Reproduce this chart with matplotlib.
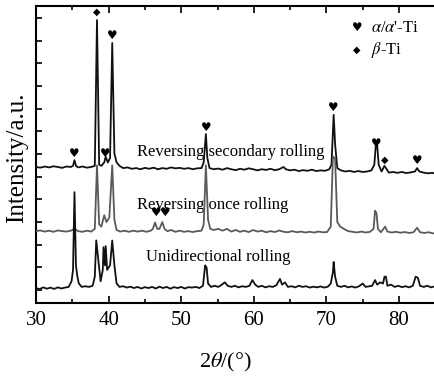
import numpy as np
import matplotlib.pyplot as plt
from matplotlib.ticker import MultipleLocator

plt.rcParams['font.family'] = ['Liberation Serif', 'DejaVu Sans']
plt.rcParams['mathtext.fontset'] = 'stix'

# Reversing secondary rolling (intensity relative to its own baseline)
sec_x = [30.0, 30.6, 31.2, 31.8, 32.4, 33.0, 33.6, 34.2, 34.8, 35.1, 35.3, 35.5, 35.8, 36.4,
         37.0, 37.6, 38.1, 38.4, 38.7, 39.0, 39.4, 39.6, 39.9, 40.2, 40.5, 40.8, 41.1, 41.5,
         42.0, 42.6, 43.2, 43.8, 44.4, 45.0, 45.6, 46.2, 46.8, 47.4, 48.0, 48.6, 49.2, 49.8,
         50.4, 51.0, 51.6, 52.2, 52.8, 53.1, 53.4, 53.6, 53.9, 54.5, 55.1, 55.7, 56.3, 56.9,
         57.5, 58.1, 58.7, 59.3, 59.9, 60.5, 61.1, 61.7, 62.3, 62.9, 63.5, 64.1, 64.4, 65.0,
         65.6, 66.2, 66.8, 67.4, 68.0, 68.6, 69.2, 69.8, 70.4, 70.7, 71.0, 71.2, 71.5, 72.0,
         72.6, 73.2, 73.8, 74.4, 75.0, 75.6, 76.2, 76.6, 76.8, 77.0, 77.2, 77.6, 78.0, 78.2,
         78.6, 79.2, 79.8, 80.4, 81.0, 81.6, 82.2, 82.5, 82.8, 83.4, 84.0, 84.6, 85.0]
sec_y = [0.00, -0.03, 0.02, -0.02, 0.03, 0.00, -0.04, 0.02, 0.00, 0.05, 0.30, 0.05, -0.02, 0.02,
         -0.03, 0.00, 0.05, 6.48, 0.10, 0.05, 0.20, 0.45, 0.20, 0.40, 5.47, 0.60, 0.20, 0.05,
         -0.05, -0.02, -0.08, -0.05, -0.10, -0.04, -0.08, -0.03, -0.10, -0.05, -0.08, -0.02, -0.06, -0.04,
         -0.08, -0.05, -0.10, -0.06, -0.05, 0.20, 1.45, 0.40, -0.05, -0.10, -0.07, -0.12, -0.05, -0.10,
         -0.14, -0.08, -0.12, -0.06, -0.10, -0.15, -0.10, -0.13, -0.08, -0.14, -0.10, 0.00, -0.10, -0.15,
         -0.12, -0.18, -0.14, -0.17, -0.12, -0.18, -0.15, -0.17, -0.10, 0.10, 2.30, 1.00, -0.05, -0.15,
         -0.20, -0.17, -0.22, -0.18, -0.22, -0.20, -0.15, 0.10, 0.95, 0.95, 0.10, -0.20, 0.05, -0.05,
         -0.25, -0.22, -0.26, -0.22, -0.27, -0.24, -0.20, -0.05, -0.20, -0.25, -0.28, -0.26, -0.30]

# Reversing once rolling
once_x = [30.0, 30.6, 31.2, 31.8, 32.4, 33.0, 33.6, 34.2, 34.8, 35.3, 35.8, 36.4, 37.0, 37.6,
          38.1, 38.4, 38.7, 39.0, 39.4, 39.7, 40.1, 40.5, 40.8, 41.1, 41.6, 42.2, 42.8, 43.4,
          44.0, 44.6, 45.2, 45.8, 46.1, 46.4, 46.7, 47.0, 47.4, 47.7, 48.1, 48.6, 49.2, 49.8,
          50.4, 51.0, 51.6, 52.2, 52.8, 53.1, 53.4, 53.7, 54.0, 54.5, 55.1, 55.7, 56.3, 56.9,
          57.5, 58.1, 58.7, 59.3, 59.9, 60.5, 61.1, 61.7, 62.3, 62.9, 63.5, 64.1, 64.7, 65.3,
          65.9, 66.5, 67.1, 67.7, 68.3, 68.9, 69.5, 70.1, 70.6, 70.9, 71.2, 71.5, 71.9, 72.4,
          73.0, 73.6, 74.2, 74.8, 75.4, 76.0, 76.5, 76.7, 76.9, 77.1, 77.5, 78.1, 78.4, 79.0,
          79.6, 80.2, 80.8, 81.4, 82.0, 82.5, 82.9, 83.5, 84.1, 84.7, 85.0]
once_y = [0.00, 0.03, -0.02, 0.02, -0.03, 0.03, 0.00, -0.02, 0.02, 0.10, 0.00, -0.03, 0.02, -0.02,
          0.10, 2.90, 0.30, 0.20, 0.70, 0.40, 0.60, 2.90, 0.50, 0.05, -0.02, 0.02, -0.03, 0.02,
          -0.02, 0.02, -0.03, 0.02, 0.10, 0.38, 0.10, 0.10, 0.40, 0.10, 0.00, 0.05, -0.03, 0.02,
          -0.03, 0.00, -0.04, 0.00, 0.02, 0.30, 2.90, 0.50, 0.10, 0.05, 0.10, 0.02, 0.10, -0.02,
          0.05, -0.03, 0.02, -0.04, 0.05, -0.02, 0.02, -0.05, 0.00, -0.04, 0.03, -0.03, -0.05, 0.00,
          -0.05, -0.02, -0.06, -0.03, -0.06, -0.02, -0.05, -0.04, 0.20, 3.30, 3.20, 0.40, 0.20, 0.10,
          0.00, -0.03, -0.06, -0.02, -0.06, -0.03, 0.10, 0.90, 0.80, 0.10, -0.05, 0.20, -0.02, -0.06,
          -0.03, -0.07, -0.04, -0.08, -0.05, 0.15, -0.05, -0.08, -0.05, -0.10, -0.08]

# Unidirectional rolling
uni_x = [30.0, 30.5, 31.0, 31.5, 32.0, 32.5, 33.0, 33.5, 34.0, 34.5, 34.9, 35.1, 35.3, 35.5,
         35.7, 35.9, 36.3, 36.8, 37.3, 37.8, 38.1, 38.3, 38.6, 38.9, 39.2, 39.3, 39.5, 39.6,
         39.8, 40.2, 40.5, 40.8, 41.1, 41.5, 42.0, 42.5, 43.0, 43.5, 44.0, 44.5, 45.0, 45.5,
         46.0, 46.5, 47.0, 47.5, 48.0, 48.5, 49.0, 49.5, 50.0, 50.5, 51.0, 51.5, 52.0, 52.5,
         53.0, 53.3, 53.5, 53.7, 54.1, 54.6, 55.1, 55.6, 56.0, 56.4, 56.9, 57.4, 57.9, 58.4,
         58.9, 59.4, 59.8, 60.2, 60.6, 61.1, 61.6, 62.1, 62.6, 63.1, 63.6, 63.9, 64.3, 64.7,
         65.2, 65.7, 66.2, 66.7, 67.2, 67.7, 68.2, 68.7, 69.2, 69.7, 70.2, 70.6, 70.9, 71.0,
         71.2, 71.5, 72.0, 72.5, 73.0, 73.5, 74.0, 74.5, 75.0, 75.4, 75.9, 76.3, 76.7, 77.0,
         77.4, 77.8, 78.0, 78.2, 78.4, 78.9, 79.4, 79.9, 80.4, 80.9, 81.4, 81.9, 82.3, 82.6,
         82.9, 83.4, 83.9, 84.4, 85.0]
uni_y = [0.00, -0.05, 0.03, -0.03, 0.02, -0.04, 0.03, -0.02, 0.02, 0.05, 0.30, 0.80, 4.23, 1.00,
         0.50, 0.20, 0.05, 0.08, 0.05, 0.10, 0.50, 2.10, 1.20, 0.30, 0.80, 1.80, 1.00, 1.85,
         0.80, 1.00, 2.10, 1.00, 0.20, 0.05, 0.08, 0.02, 0.06, 0.00, 0.05, -0.02, 0.04, 0.00,
         0.05, -0.02, 0.06, 0.00, 0.05, -0.03, 0.04, 0.00, 0.05, -0.02, 0.04, 0.02, 0.05, 0.00,
         0.10, 1.00, 0.90, 0.20, 0.05, 0.10, 0.05, 0.15, 0.25, 0.10, 0.05, 0.10, 0.03, 0.08,
         0.05, 0.10, 0.35, 0.15, 0.05, 0.10, 0.03, 0.08, 0.05, 0.12, 0.40, 0.15, 0.25, 0.05,
         0.08, 0.03, 0.10, 0.05, 0.08, 0.02, 0.06, 0.03, 0.07, 0.02, 0.06, 0.20, 0.70, 1.15,
         0.50, 0.10, 0.05, 0.10, 0.03, 0.07, 0.02, 0.08, 0.20, 0.05, 0.08, 0.10, 0.35, 0.15,
         0.25, 0.20, 0.50, 0.50, 0.10, 0.15, 0.05, 0.10, 0.04, 0.08, 0.03, 0.10, 0.50, 0.45,
         0.10, 0.05, 0.10, 0.03, 0.08]

labels = ["Reversing secondary rolling", "Reversing once rolling", "Unidirectional rolling"]

# phase markers: position (2theta, height) and phase
mark_x = [38.4, 40.5, 35.3, 39.6, 53.4, 71.0, 76.8, 78.1, 82.5, 46.5, 47.8]
mark_y = [13.26, 12.25, 7.04, 7.04, 8.19, 9.07, 7.48, 6.73, 6.73, 4.40, 4.40]
mark_k = ["b", "a", "a", "a", "a", "a", "a", "b", "a", "a", "a"]

fig = plt.figure(figsize=(4.34, 3.78), dpi=100)
ax = fig.add_axes([36 / 434, 1 - 303 / 378, 399.3 / 434, 297 / 378])

ax.plot(sec_x, np.array(sec_y) + 6.43, color='#111111', lw=1.3, zorder=3)
ax.plot(once_x, np.array(once_y) + 3.6, color='#5a5a5a', lw=1.3, zorder=4)
ax.plot(uni_x, np.array(uni_y) + 1.09, color='#111111', lw=1.3, zorder=5)

ax.text(43.9, 7.09, labels[0], fontsize=12, va='center', ha='left', zorder=1)
ax.text(43.9, 4.75, labels[1], fontsize=12, va='center', ha='left', zorder=1)
ax.text(45.15, 2.46, labels[2], fontsize=12, va='center', ha='left', zorder=1)

for x, y, k in zip(mark_x, mark_y, mark_k):
    if k == "a":
        ax.text(x, y, "\u2665", family='DejaVu Sans', fontsize=8.5, ha='center', va='center')
    else:
        ax.text(x, y, "\u25c6", family='DejaVu Sans', fontsize=7, ha='center', va='center')

# legend
ax.text(74.2, 12.56, "\u2665", family='DejaVu Sans', fontsize=8.5, ha='center', va='center')
ax.text(74.2, 11.59, "\u25c6", family='DejaVu Sans', fontsize=7, ha='center', va='center')
ax.text(76.2, 12.56, r"$\alpha$/$\alpha$'-Ti", fontsize=12, ha='left', va='center')
ax.text(76.2, 11.59, r"$\beta$-Ti", fontsize=12, ha='left', va='center')

ax.set_xlim(30, 85)
ax.set_ylim(0.43, 13.53)
ax.xaxis.set_major_locator(MultipleLocator(10))
ax.xaxis.set_minor_locator(MultipleLocator(5))
ax.yaxis.set_major_locator(MultipleLocator(1))
ax.tick_params(axis='x', which='both', direction='in', top=True, labelsize=15, pad=6)
ax.tick_params(axis='x', which='major', length=5, width=1.2)
ax.tick_params(axis='x', which='minor', length=3, width=1.2)
ax.tick_params(axis='y', which='major', direction='in', length=4, width=1.2, labelleft=False)
for s in ax.spines.values():
    s.set_linewidth(1.5)

ax.set_xlabel(r"2$\theta$/(°)", fontsize=16)
ax.xaxis.set_label_coords((225 - 36) / 399.3, -(351 - 303) / 297)
ax.set_ylabel("Intensity/a.u.", fontsize=18)
ax.yaxis.set_label_coords(-(36 - 28) / 399.3, (303 - 158) / 297)

fig.savefig("out.png", dpi=100)
